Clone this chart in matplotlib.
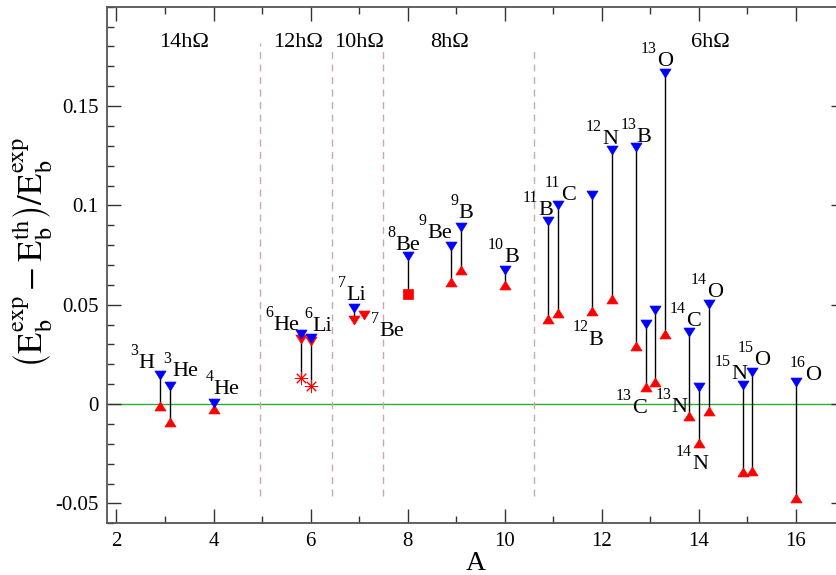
import numpy as np
import matplotlib
matplotlib.use("Agg")
import matplotlib.pyplot as plt
from matplotlib.path import Path
from matplotlib.ticker import MultipleLocator, FixedLocator

plt.rcParams["font.family"] = ["Liberation Serif", "DejaVu Serif"]
plt.rcParams["mathtext.fontset"] = "stix"

# nuclei, A position on the axis, relative deviations
elements = ["H", "He", "He", "He", "Li", "Li", "Be", "Be", "Be", "B", "B", "B", "C",
            "B", "N", "B", "C", "N", "O", "C", "N", "O", "N", "O", "O"]
mass = ["3", "3", "4", "6", "6", "7", "7", "8", "9", "9", "10", "11", "11",
        "12", "12", "13", "13", "13", "13", "14", "14", "14", "15", "15", "16"]
x_pos = [2.9, 3.1, 4.0, 5.8, 6.0, 6.9, 7.1, 8.0, 8.9, 9.1, 10.0, 10.9, 11.1,
         11.8, 12.2, 12.7, 12.9, 13.1, 13.3, 13.8, 14.0, 14.2, 14.9, 15.1, 16.0]
blue_vals = [0.0146, 0.0089, 0.0005, 0.0355, 0.0335, 0.0485, np.nan, 0.0744, 0.0794,
             0.0892, 0.0674, 0.0923, 0.1003, 0.1054, 0.128, 0.1296, 0.0401, 0.0472,
             0.1664, 0.0363, 0.0084, 0.0502, 0.0095, 0.0162, 0.0112]
red_vals = [-0.001, -0.0092, -0.0025, 0.0326, 0.0318, 0.0421, 0.0447, 0.0552, 0.0614,
            0.0677, 0.0597, 0.0426, 0.046, 0.0468, 0.0527, 0.0293, 0.0084, 0.0112,
            0.0351, -0.0059, -0.0196, -0.0034, -0.034, -0.0335, -0.0473]
red_kind = ["^", "^", "^", "v", "v", "v", "v", "s", "^", "^", "^", "^", "^",
            "^", "^", "^", "^", "^", "^", "^", "^", "^", "^", "^", "^"]
# extra points for 6He and 6Li
star_x = [5.8, 6.0]
star_vals = [0.0129, 0.0092]

# shell regions
region_labels = ["14hΩ", "12hΩ", "10hΩ", "8hΩ", "6hΩ"]
region_x = [3.40, 5.74, 6.99, 8.87, 14.23]
region_y = 0.1818
bounds = [4.95, 6.45, 7.5, 10.6]
bound_top = [0.1815, 0.178, 0.178, 0.178]

# label positions (centre of element symbol)
lab_x = [2.62, 3.41, 4.27, 5.50, 6.25, 6.95, 7.67, 8.01, 8.66, 9.20, 10.14, 10.84, 11.31,
         11.88, 12.17, 12.87, 12.77, 13.60, 13.30, 13.88, 14.02, 14.33, 14.83, 15.31, 16.36]
lab_y = [0.0217, 0.0176, 0.0084, 0.0410, 0.0401, 0.0560, 0.0380, 0.0811, 0.0870, 0.0970,
         0.0748, 0.0987, 0.1062, 0.0335, 0.1346, 0.1355, -0.0009, -0.0005, 0.1735, 0.0430,
         -0.0293, 0.0574, 0.0162, 0.0234, 0.0156]

fig = plt.figure(figsize=(8.37, 5.75), dpi=100)
ax = fig.add_axes([0.1275, 0.0899, 0.8815, 0.8984])

tri_down = Path([(-1, 0.8), (1, 0.8), (0, -0.8), (-1, 0.8)],
                [Path.MOVETO, Path.LINETO, Path.LINETO, Path.CLOSEPOLY])
tri_up = Path([(-1, -0.8), (1, -0.8), (0, 0.8), (-1, -0.8)],
              [Path.MOVETO, Path.LINETO, Path.LINETO, Path.CLOSEPOLY])
shapes = {"^": tri_up, "v": tri_down, "s": "s"}

ax.axhline(0, color="#33aa33", lw=1.0, zorder=1)
for b, top in zip(bounds, bound_top):
    ax.plot([b, b], [-0.0465, top], color="#c9a9b0", lw=1.0, dashes=(5, 4), zorder=1)

# connecting sticks
for i, x in enumerate(x_pos):
    if np.isnan(blue_vals[i]):
        continue
    lo = red_vals[i]
    if x in star_x:
        lo = star_vals[star_x.index(x)]
    ax.plot([x, x], [blue_vals[i], lo], color="black", lw=1.0, zorder=2)

for i, x in enumerate(x_pos):
    ms = 7.8 if red_kind[i] == "s" else 8.0
    ax.plot(x, red_vals[i], marker=shapes[red_kind[i]], ms=ms, color="red",
            mec="red", mew=0.5, ls="none", zorder=3)
ax.plot(star_x, star_vals, ls="none", marker=(8, 2, 0), ms=9.5, color="red",
        mew=0.7, zorder=3)
ax.plot(x_pos, blue_vals, ls="none", marker=tri_down, ms=8, color="blue",
        mec="blue", mew=0.5, zorder=4)

for el, m, lx, ly in zip(elements, mass, lab_x, lab_y):
    t = ax.text(lx, ly, el, fontsize=16, ha="center", va="center_baseline", zorder=5)
    ax.annotate(m, xy=(0, 0.95), xycoords=t, xytext=(-0.3, 0), textcoords="offset points",
                fontsize=11.5, ha="right", va="baseline", zorder=5)

for lab, rx in zip(region_labels, region_x):
    ax.text(rx, region_y, lab, fontsize=16, ha="center", va="center")

ax.set_xlim(1.8, 17)
ax.set_ylim(-0.06, 0.2)
ax.xaxis.set_major_locator(FixedLocator(range(2, 17, 2)))
ax.xaxis.set_minor_locator(MultipleLocator(1))
ax.yaxis.set_major_locator(FixedLocator([-0.05, 0, 0.05, 0.1, 0.15]))
ax.set_yticklabels(["-0.05", "0", "0.05", "0.1", "0.15"])
ax.yaxis.set_minor_locator(MultipleLocator(0.01))
ax.tick_params(which="both", direction="in", top=True, right=True, labelsize=15,
               color="#333333")
ax.tick_params(which="major", length=10, width=1.0, pad=6)
ax.tick_params(which="minor", length=5, width=1.0)
for s in ax.spines.values():
    s.set_color("#555555")
    s.set_linewidth(1.3)

ax.set_xlabel("A", fontsize=20, labelpad=0)
ax.set_ylabel(r"$\left(\mathrm{E}_\mathrm{b}^{\mathrm{exp}}-\mathrm{E}_\mathrm{b}^{\mathrm{th}}\right)"
              r"/\mathrm{E}_\mathrm{b}^{\mathrm{exp}}$",
              fontsize=25)
ax.yaxis.set_label_coords(-0.072, 0.525)

fig.savefig("out.png", dpi=100)
